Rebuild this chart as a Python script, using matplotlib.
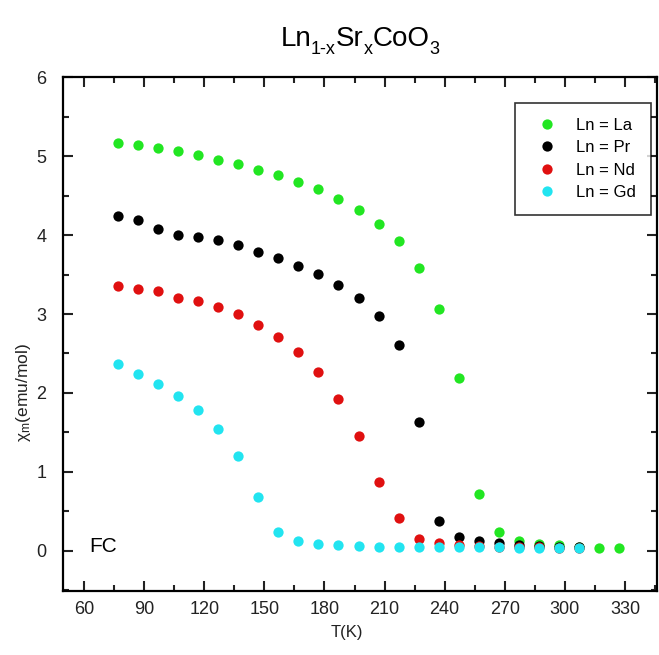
import matplotlib
matplotlib.use("Agg")
import matplotlib.pyplot as plt
from matplotlib.ticker import MultipleLocator
from matplotlib import font_manager

plt.rcParams['font.family'] = ['Liberation Sans', 'DejaVu Sans']
plt.rcParams['mathtext.fontset'] = 'custom'
plt.rcParams['mathtext.rm'] = 'Liberation Sans'
plt.rcParams['mathtext.it'] = 'Liberation Sans'

T = [77, 87, 97, 107, 117, 127, 137, 147, 157, 167, 177, 187, 197,
     207, 217, 227, 237, 247, 257, 267, 277, 287, 297, 307, 317, 327]

la = [5.17, 5.14, 5.10, 5.06, 5.01, 4.95, 4.90, 4.83, 4.76, 4.67, 4.58, 4.46, 4.32,
      4.14, 3.92, 3.58, 3.06, 2.19, 0.72, 0.24, 0.13, 0.09, 0.07, 0.05, 0.04, 0.04]
pr = [4.24, 4.19, 4.08, 4.00, 3.97, 3.94, 3.87, 3.79, 3.71, 3.61, 3.51, 3.37, 3.20,
      2.97, 2.61, 1.63, 0.38, 0.18, 0.12, 0.10, 0.07, 0.06, 0.05, 0.05]
nd = [3.35, 3.32, 3.29, 3.20, 3.17, 3.09, 3.00, 2.86, 2.71, 2.52, 2.27, 1.92, 1.45,
      0.87, 0.42, 0.15, 0.10, 0.07, 0.06, 0.05, 0.05, 0.05, 0.04, 0.04]
gd = [2.37, 2.24, 2.11, 1.96, 1.78, 1.54, 1.20, 0.68, 0.24, 0.13, 0.09, 0.07, 0.06,
      0.05, 0.05, 0.05, 0.05, 0.05, 0.05, 0.05, 0.04, 0.04, 0.04, 0.04]

series = [("Ln = La", la, "#22e622"),
          ("Ln = Pr", pr, "#000000"),
          ("Ln = Nd", nd, "#e01010"),
          ("Ln = Gd", gd, "#22e4f0")]

title_parts = [("Ln", False), ("1-x", True), ("Sr", False), ("x", True),
               ("CoO", False), ("3", True)]

fig = plt.figure(figsize=(6.59, 6.55), dpi=100)
ax = fig.add_axes([0.0956, 0.0977, 0.9014, 0.7843])

for label, vals, col in series:
    ax.plot(T[:len(vals)], vals, linestyle='none', marker='o', markersize=7.4,
            markeredgewidth=0, color=col, label=label)

ax.set_xlim(49.5, 346)
ax.set_ylim(-0.51, 6)
ax.xaxis.set_major_locator(MultipleLocator(30))
ax.xaxis.set_minor_locator(MultipleLocator(15))
ax.yaxis.set_major_locator(MultipleLocator(1))
ax.yaxis.set_minor_locator(MultipleLocator(0.5))
ax.tick_params(which='both', direction='in', top=True, right=True, width=1.5,
               labelsize=13, colors='#222222')
ax.tick_params(which='major', length=7)
ax.tick_params(axis='x', which='major', pad=7)
ax.tick_params(axis='y', which='major', pad=12)
ax.tick_params(which='minor', length=4)
for s in ax.spines.values():
    s.set_linewidth(1.6)

leg = ax.legend(loc='upper right', bbox_to_anchor=(1.004, 0.967), fontsize=12,
                frameon=True, fancybox=False, edgecolor='black', handletextpad=0.7,
                borderpad=0.9, labelspacing=0.45, handlelength=2.1)
leg.get_frame().set_linewidth(1.2)

ax.text(62.5, 0.06, "FC", fontsize=15, va='center', ha='left')

fig.text(0.527, 0.035, "T(K)", fontsize=12, ha='center', va='center', color='#222222')
fig.text(0.036, 0.40, r"$\chi_m$(emu/mol)", fontsize=12.5, ha='center', va='center',
         rotation=90, color='#222222')

# Title assembled from pieces so subscripts sit low like the reference
names = {f.name for f in font_manager.fontManager.ttflist}
tfam = ['Liberation Sans Narrow'] if 'Liberation Sans Narrow' in names else ['Liberation Sans']
main_size = 22 if tfam[0].endswith('Narrow') else 20
sub_size = 15 if tfam[0].endswith('Narrow') else 13
renderer = fig.canvas.get_renderer()
texts = []
widths = []
for txt, sub in title_parts:
    t = fig.text(0, 0, txt, fontsize=sub_size if sub else main_size, family=tfam,
                 ha='left', va='baseline', transform=None)
    widths.append(t.get_window_extent(renderer).width)
    texts.append((t, sub))
total = sum(widths)
x0 = 360 - total / 2
base_y = 655 - 46
for (t, sub), w in zip(texts, widths):
    t.set_position((x0, base_y - (8 if sub else 0)))
    x0 += w

fig.savefig("out.png", dpi=100)
